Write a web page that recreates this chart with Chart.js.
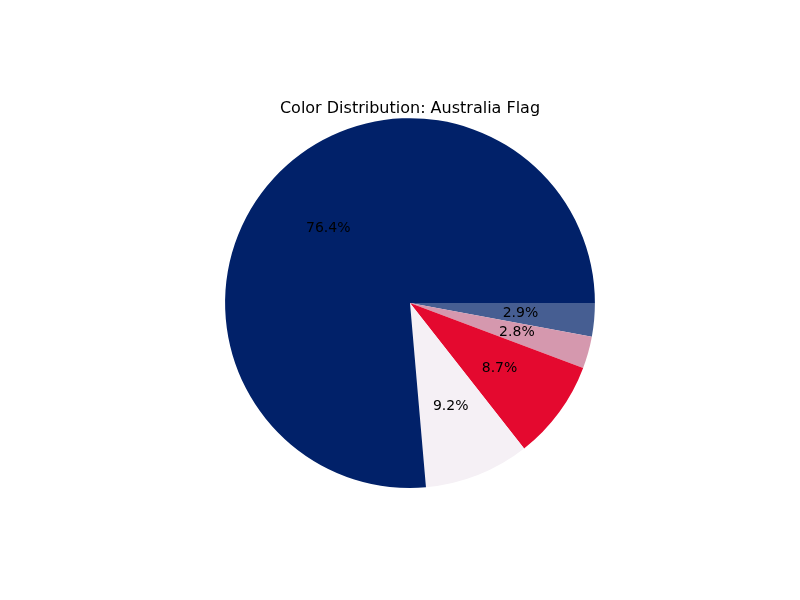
<!DOCTYPE html>
<html>
<head>
<script src="https://cdn.jsdelivr.net/npm/chart.js@4/dist/chart.umd.min.js"></script>
<style>body{margin:0;background:#fff}#wrap{width:800px;height:600px}</style>
</head>
<body>
<div id="wrap"><canvas id="c"></canvas></div>
<script>
// Reversed from the reference's counter-clockwise order, since Chart.js goes clockwise.
const labels = ['Blue', 'Pink', 'Red', 'White', 'Navy'];
const values = [2.9, 2.8, 8.7, 9.2, 76.3];
const colors = ['#465e92', '#d598ae', '#e4092f', '#f5f0f5', '#012169'];

// Percent labels at 0.6 of the radius, as matplotlib does.
const pctLabels = {
    id: 'pct-labels',
    afterDatasetsDraw(chart) {
        const ctx = chart.ctx;
        const total = values.reduce((a, b) => a + b, 0);
        ctx.save();
        ctx.font = '14px "DejaVu Sans"';
        ctx.fillStyle = '#000';
        ctx.textAlign = 'center';
        ctx.textBaseline = 'middle';
        for (const [i, arc] of chart.getDatasetMeta(0).data.entries()) {
            const a = (arc.startAngle + arc.endAngle) / 2;
            const r = arc.outerRadius * 0.6;
            const pct = (values[i] / total * 100).toFixed(1) + '%';
            ctx.fillText(pct, arc.x + r * Math.cos(a), arc.y + r * Math.sin(a));
        }
        ctx.restore();
    },
};

new Chart(document.getElementById('c'), {
    type: 'pie',
    data: {labels, datasets: [{data: values, backgroundColor: colors, borderWidth: 0}]},
    plugins: [pctLabels],
    options: {
        responsive: true,
        maintainAspectRatio: false,
        animation: false,
        rotation: 90,
        layout: {padding: {top: 51, bottom: 112, left: 225, right: 205}},
        plugins: {
            legend: {display: false},
            tooltip: {enabled: false},
            title: {
                display: true,
                text: 'Color Distribution: Australia Flag',
                color: '#000',
                font: {family: 'DejaVu Sans', size: 16, weight: 'normal'},
                padding: {top: 48, bottom: 0},
            },
        },
    },
});
</script>
</body>
</html>
